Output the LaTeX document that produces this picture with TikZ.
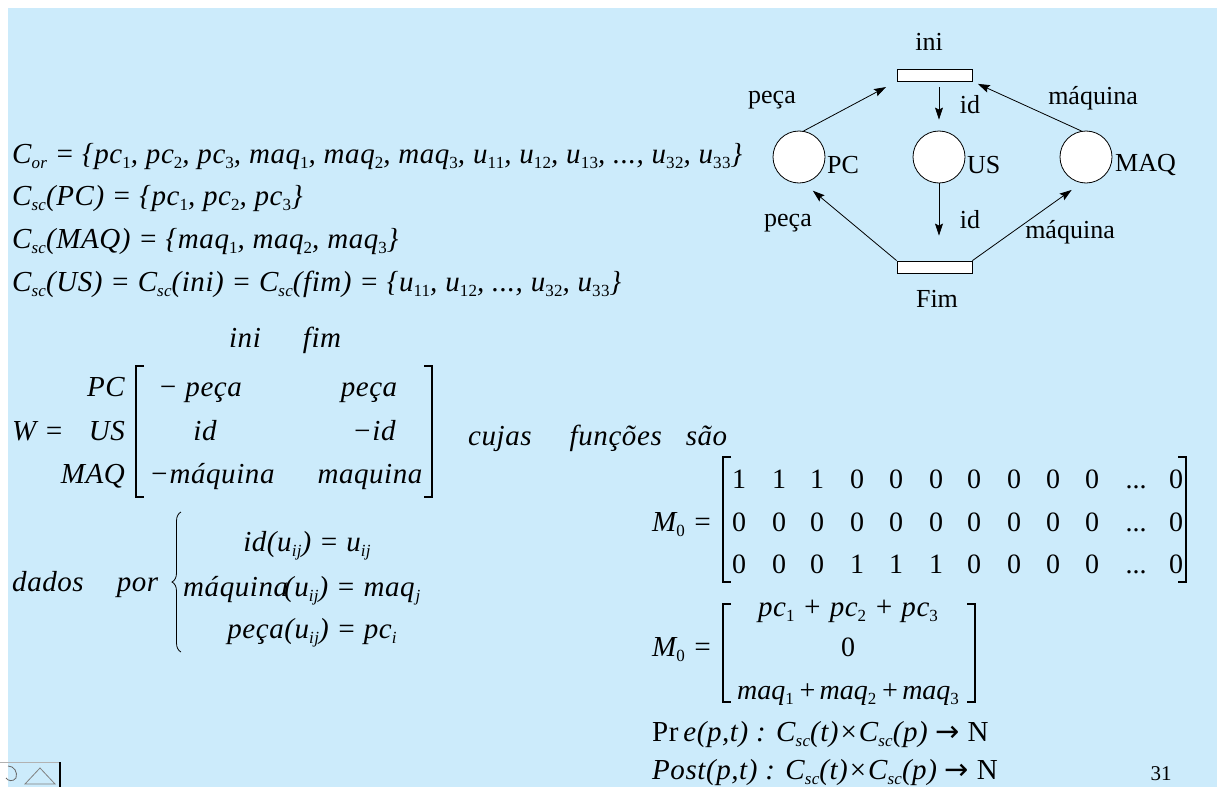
\documentclass[tikz,border=0pt]{standalone}
\usepackage{fontspec}
\setmainfont{Liberation Serif}
\newfontfamily\symfont{DejaVu Sans}
\usetikzlibrary{arrows.meta,decorations.pathreplacing,calc}
\definecolor{bg}{RGB}{204,235,251}
\newcommand{\sbs}[1]{\raisebox{-0.42ex}{\fontsize{17}{17}\selectfont #1}}
\newcommand{\dg}[1]{\sbs{\upshape #1}}
\newcommand{\Csc}{C\sbs{sc}}
\newcommand{\arrowsym}{{\upshape\symfont\addfontfeatures{LetterSpace=0}→}}
\begin{document}
\begin{tikzpicture}[x=1pt,y=-1pt,
  mt/.style={font=\fontsize{29}{32}\selectfont\itshape\addfontfeatures{LetterSpace=2}, inner sep=0pt, anchor=base west},
  mc/.style={mt, anchor=base},
  num/.style={font=\fontsize{28}{30}\selectfont, inner sep=0pt, anchor=base},
  lbl/.style={font=\fontsize{26}{30}\selectfont, inner sep=0pt},
  place/.style={circle, draw, fill=white, minimum size=52pt, inner sep=0pt, line width=0.8pt},
  trans/.style={rectangle, draw, fill=white, minimum width=75pt, minimum height=12pt, inner sep=0pt, line width=0.8pt},
  arr/.style={-{Stealth[length=12pt,width=8pt,inset=2pt]}, line width=0.8pt},
  brk/.style={line width=1.3pt}]
\useasboundingbox (0,0) rectangle (1217,787);
\fill[white] (0,0) rectangle (1217,787);
\fill[bg] (8,8) rectangle (1217,787);

% Petri net
\node[trans] (ini) at (934.5,75) {};
\node[trans] (fim) at (934.5,267) {};
\node[place] (PC) at (799,157) {};
\node[place] (US) at (939,157) {};
\node[place] (MAQ) at (1086,157) {};
\node[lbl] (tini) at (929,42) {ini};
\node[lbl] (tfim) at (937,299) {Fim};
\node[lbl, anchor=west] (tPC) at (827,165) {PC};
\node[lbl, anchor=west] (tUS) at (967,165) {US};
\node[lbl, anchor=west] (tMAQ) at (1115,165) {MAQ};
\draw[arr, shorten >=12pt] (PC.80) -- (ini.south west);
\draw[arr, shorten <=6pt, shorten >=11pt] (ini.south -| US.north) -- (US.north);
\draw[arr, shorten >=6pt] (MAQ.100) -- (ini.south east);
\draw[arr, shorten >=25pt] (US.south) -- (fim.north -| US.south);
\draw[arr, shorten >=12pt] (fim.north west) -- (PC.-80);
\draw[arr, shorten >=12pt] (fim.north east) -- (MAQ.-100);
\node[lbl] (a1) at (772,100) {peça};
\node[lbl] (a2) at (970,105) {id};
\node[lbl] (a3) at (1093,98) {máquina};
\node[lbl] (a4) at (788,223) {peça};
\node[lbl] (a5) at (970,220) {id};
\node[lbl] (a6) at (1070,232) {máquina};

% colour sets
\node[mt] (l1) at (12,163) {C\sbs{or} = \{pc\dg{1}, pc\dg{2}, pc\dg{3}, maq\dg{1}, maq\dg{2}, maq\dg{3}, u\dg{11}, u\dg{12}, u\dg{13}, ..., u\dg{32}, u\dg{33}\}};
\node[mt] (l2) at (12,205) {\Csc(PC) = \{pc\dg{1}, pc\dg{2}, pc\dg{3}\}};
\node[mt] (l3) at (12,248) {\Csc(MAQ) = \{maq\dg{1}, maq\dg{2}, maq\dg{3}\}};
\node[mt] (l4) at (12,291) {\Csc(US) = \Csc(ini) = \Csc(fim) = \{u\dg{11}, u\dg{12}, ..., u\dg{32}, u\dg{33}\}};

% W matrix
\node[mc] (hini) at (245,347) {ini};
\node[mc] (hfim) at (322,347) {fim};
\node[mt] (W) at (12,440) {W =};
\node[mt, anchor=base east] (rPC) at (125,396) {PC};
\node[mt, anchor=base east] (rUS) at (125,440) {US};
\node[mt, anchor=base east] (rMAQ) at (125,483) {MAQ};
\node[mc] (w11) at (200,396) {− peça};
\node[mc] (w12) at (369,396) {peça};
\node[mc] (w21) at (205,440) {id};
\node[mc] (w22) at (374,440) {−id};
\node[mc] (w31) at (212,483) {−máquina};
\node[mc] (w32) at (370,483) {maquina};
\draw[brk] (144,366) -- (136,366) -- (136,497) -- (144,497);
\draw[brk] (424,366) -- (432,366) -- (432,497) -- (424,497);
\node[mt] (cuj) at (468,445) {cujas\hspace{38pt}funções\hspace{24pt}são};

% dados por
\node[mt] (dp) at (12,591) {dados\hspace{33pt}por};
\draw[line width=0.8pt, decorate, decoration={brace, amplitude=9pt}] (181,652) -- (181,512);
\node[mc] (f1) at (307,551) {id(u\sbs{ij}) = u\sbs{ij}};
\node[mt] (f2) at (183,596) {máquina\kern-4pt(u\sbs{ij}) = maq\sbs{\kern1pt j}};
\node[mc] (f3) at (312,638) {peça(u\sbs{ij}) = pc\sbs{i}};

% M0 matrix 1
\node[mt] (m1) at (652,531) {M\dg{0} =};
\foreach \r [count=\i] in {{1,1,1,0,0,0,0,0,0,0,0},{0,0,0,0,0,0,0,0,0,0,0},{0,0,0,1,1,1,0,0,0,0,0}}{
  \foreach \v [count=\j] in \r {
    \pgfmathsetmacro{\xx}{{739,779,817,857,896,936,974,1014,1053,1092,1176}[\j-1]}
    \pgfmathsetmacro{\yy}{{488,531,573}[\i-1]}
    \node[num] (e\i\j) at (\xx,\yy) {\v};
  }
  \pgfmathsetmacro{\yy}{{488,531,573}[\i-1]}
  \node[num] (d\i) at (1136,\yy) {...};
}
\draw[brk] (731,457) -- (723,457) -- (723,582) -- (731,582);
\draw[brk] (1178,457) -- (1186,457) -- (1186,582) -- (1178,582);

% M0 matrix 2
\node[mt] (m2) at (652,656) {M\dg{0} =};
\node[mc] (n1) at (848,616) {pc\dg{1} + pc\dg{2} + pc\dg{3}};
\node[num] (n2) at (848,656) {0};
\node[mc, font=\fontsize{28}{32}\selectfont\itshape\addfontfeatures{LetterSpace=0}] (n3) at (848,699) {maq\dg{1}\hspace{4pt}+\hspace{3pt}maq\dg{2}\hspace{4pt}+\hspace{3pt}maq\dg{3}};
\draw[brk] (731,604) -- (723,604) -- (723,702) -- (731,702);
\draw[brk] (967,604) -- (975,604) -- (975,702) -- (967,702);

% Pre / Post
\node[mt] (pre) at (652,741) {{\upshape Pr}\,e(p,t) : \Csc(t)\kern2pt{\upshape ×}\kern2pt\Csc(p) \arrowsym{} {\upshape N}};
\node[mt] (post) at (652,779) {Post(p,t) : \Csc(t)\kern2pt{\upshape ×}\kern2pt\Csc(p) \arrowsym{} {\upshape N}};
\node[font=\fontsize{21}{24}\selectfont, inner sep=0pt, anchor=base] (pg) at (1161,780) {31};

% toolbar icons
\draw[gray!60, line width=1pt] (0,762) -- (60,762);
\draw[black, line width=1.5pt] (60,762) -- (60,787);
\draw[gray, line width=0.8pt] (25,784) -- (40,768) -- (55,784) -- cycle;
\draw[gray!80!black, line width=0.8pt] (8,766) .. controls (14,766) and (18,772) .. (16,778) .. controls (13,782) and (8,781) .. (6,778);
\end{tikzpicture}
\end{document}
